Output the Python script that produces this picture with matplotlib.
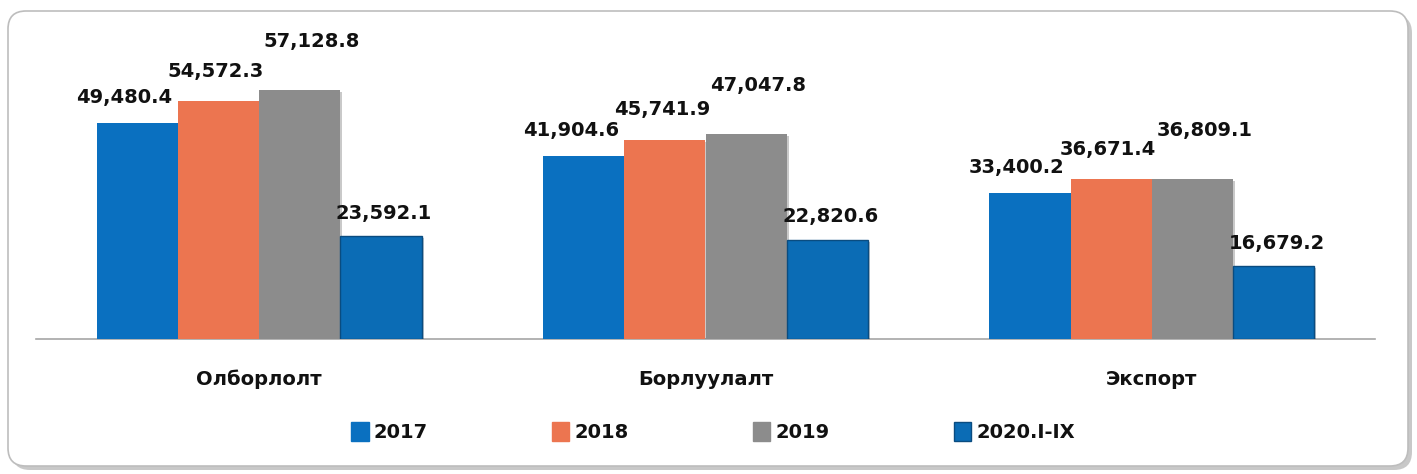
import matplotlib
matplotlib.use("Agg")
import matplotlib.pyplot as plt
import numpy as np
from matplotlib.patches import FancyBboxPatch, Patch
import matplotlib.patheffects as pe

categories = ["Олборлолт", "Борлуулалт", "Экспорт"]
series_names = ["2017", "2018", "2019", "2020.I-IX"]
v2017 = [49480.4, 41904.6, 33400.2]
v2018 = [54572.3, 45741.9, 36671.4]
v2019 = [57128.8, 47047.8, 36809.1]
v2020 = [23592.1, 22820.6, 16679.2]
series_values = [v2017, v2018, v2019, v2020]

colors = ["#0A70C0", "#EC7550", "#8C8C8C", "#0B6CB5"]
edges = ["none", "none", "none", "#0A4C80"]
# label offsets (pixels) per series, to mimic the reference placement
label_dx = [-13, -3, 12, 3]
label_dy = [26, 30, 48, 23]

W, H = 1417, 474
fig = plt.figure(figsize=(W / 100, H / 100), dpi=100)
fig.patch.set_facecolor("white")

# rounded frame with shadow
shadow = FancyBboxPatch((0.12, 0.04), 14.0, 4.55, boxstyle="round,pad=0,rounding_size=0.18",
                        transform=fig.dpi_scale_trans, facecolor="#9C9C9C", edgecolor="none",
                        alpha=0.55, zorder=0)
frame = FancyBboxPatch((0.08, 0.08), 14.0, 4.55, boxstyle="round,pad=0,rounding_size=0.18",
                       transform=fig.dpi_scale_trans, facecolor="white", edgecolor="#BDBDBD",
                       linewidth=1.2, zorder=1)
fig.patches.extend([shadow, frame])

ax = fig.add_axes([36 / W, 1 - 339 / H, (1375 - 36) / W, 329 / H])
ax.set_facecolor("none")
ax.set_zorder(2)

x = np.arange(len(categories))
bw = 0.182
px_per_pt = 100 / 72.0
for i, (vals, name) in enumerate(zip(series_values, series_names)):
    bars = ax.bar(x + (i - 1.5) * bw, vals, bw, color=colors[i], edgecolor=edges[i],
                  linewidth=1.0 if edges[i] != "none" else 0, label=name, zorder=3)
    for b in bars:
        b.set_path_effects([pe.SimplePatchShadow(offset=(1.5, -1.5), alpha=0.25), pe.Normal()])
    for b, v in zip(bars, vals):
        ax.annotate(f"{v:,.1f}", xy=(b.get_x() + b.get_width() / 2, v),
                    xytext=(label_dx[i] / px_per_pt, label_dy[i] / px_per_pt),
                    textcoords="offset points", ha="center", va="center",
                    fontsize=14, fontweight="bold", color="#111111", family="DejaVu Sans",
                    zorder=5)

ax.set_xlim(-0.5, 2.5)
ax.set_ylim(0, 57128.8 * 1.321)
for s in ["top", "right", "left"]:
    ax.spines[s].set_visible(False)
ax.spines["bottom"].set_color("#A6A6A6")
ax.spines["bottom"].set_linewidth(1.2)
ax.set_yticks([])
ax.set_xticks(x)
ax.set_xticklabels(categories, fontsize=14, fontweight="bold", color="#111111")
ax.tick_params(axis="x", length=0, pad=22)

handles = [Patch(facecolor=colors[i], edgecolor=edges[i] if edges[i] != "none" else colors[i])
           for i in range(4)]
leg = fig.legend(handles, series_names, loc="center left",
                 bbox_to_anchor=(351 / W, 1 - 432 / H), ncol=4, frameon=False,
                 prop={"weight": "bold", "size": 14}, handlelength=0.9, handleheight=1.1,
                 handletextpad=0.25, columnspacing=6.4, borderpad=0, borderaxespad=0)
for t in leg.get_texts():
    t.set_color("#111111")

fig.savefig("out.png", dpi=100, facecolor="white")
